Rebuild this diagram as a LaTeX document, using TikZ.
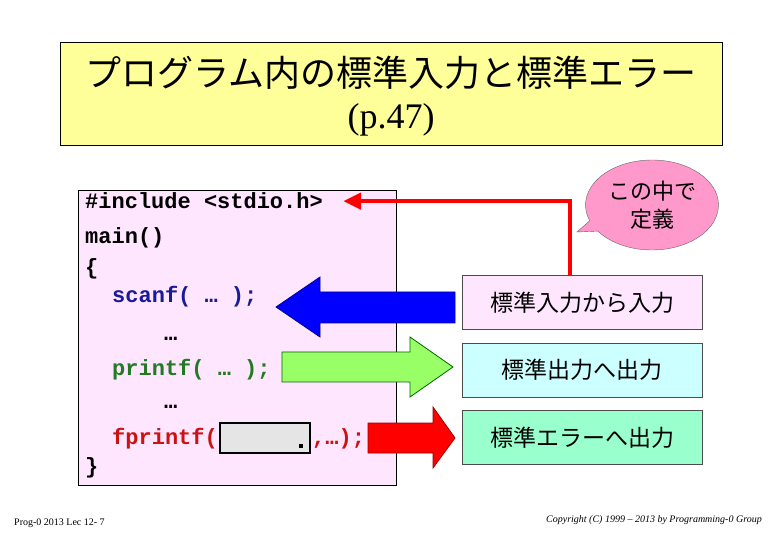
\documentclass[tikz,border=0pt]{standalone}
\usepackage{fontspec}
\setmainfont{Liberation Serif}
\setmonofont{Liberation Mono}
\newfontfamily\jafont{Noto Sans CJK JP}
\usetikzlibrary{positioning}
\usetikzlibrary{shapes.callouts}
\usetikzlibrary{arrows.meta}

\definecolor{titlefill}{HTML}{FFFF99}
\definecolor{codefill}{HTML}{FFE6FF}
\definecolor{infill}{HTML}{FFE6FF}
\definecolor{outfill}{HTML}{CCFFFF}
\definecolor{errfill}{HTML}{99FFCC}
\definecolor{bubblefill}{HTML}{FF99CC}
\definecolor{scanblue}{HTML}{1A1A99}
\definecolor{printgreen}{HTML}{227A22}
\definecolor{fprintred}{HTML}{CC1111}
\definecolor{greenarrow}{HTML}{99FF66}

\begin{document}
\begin{tikzpicture}[
		x=1pt, y=-1pt,
		codeline/.style={
			anchor=base west,
			inner sep=0pt,
			font={\fontsize{22}{26}\selectfont\ttfamily\bfseries}
		},
		iobox/.style={
			shape=rectangle,
			draw=black!70,
			minimum width=240,
			minimum height=54,
			font={\fontsize{23}{27}\selectfont\jafont}
		},
		blockarrow/.style={
			draw,
			line width=0.8,
			line join=miter
		}
		]
		
		\useasboundingbox (0,0) rectangle (780,540);
		
		% title
		\node[
		shape=rectangle,
		draw,
		fill=titlefill,
		minimum width=662,
		minimum height=103
		] (titlebox) at (391,93.5) {};
		
		\node[font={\fontsize{36}{40}\selectfont\jafont}] (title) at (391,73)
		{プログラム内の標準入力と標準エラー};
		
		\node[font={\fontsize{36}{40}\selectfont}] (page) at (391,120) {(p.47)};
		
		% program
		\node[
		shape=rectangle,
		draw,
		fill=codefill,
		minimum width=318,
		minimum height=295
		] (code) at (237,337.5) {};
		
		\node[codeline] (inc) at (85,209) {\#include <stdio.h>};
		\node[codeline] (main) at (85,244) {main()};
		\node[codeline] (open) at (85,275) {\{};
		\node[codeline, text=scanblue] (scan) at (112,303) {scanf( … );};
		\node[codeline] (dots1) at (164,341) {…};
		\node[codeline, text=printgreen] (print) at (112,375) {printf( … );};
		\node[codeline] (dots2) at (164,408) {…};
		\node[codeline, text=fprintred] (fprint) at (112,444) {fprintf(};
		\node[
		shape=rectangle,
		draw,
		line width=2,
		fill=black!10,
		minimum width=90,
		minimum height=30
		] (stream) at (265,437.5) {};
		\fill ([xshift=-12,yshift=-6]stream.east) rectangle ++(4,4);
		\node[codeline, text=fprintred] (rest) at (312,444) {,…);};
		\node[codeline] (close) at (85,473) {\}};
		
		% what each call does
		\node[iobox, fill=infill] (in) at (582,302.5) {標準入力から入力};
		\node[iobox, fill=outfill, below=13pt of in] (out) {標準出力へ出力};
		\node[iobox, fill=errfill, below=13pt of out] (err) {標準エラーへ出力};
		
		\node[
		ellipse callout,
		draw=black!60,
		fill=bubblefill,
		minimum width=133,
		minimum height=90,
		inner sep=0pt,
		align=center,
		font={\fontsize{22}{28}\selectfont\jafont},
		callout absolute pointer={(577,232)}
		] (bubble) at (652,205) {この中で\\定義};
		
		%%%%%%%%%%
		
		\draw[blockarrow, draw=blue!60!black, fill=blue]
		(455,292) -- (320,292) -- (320,277) -- (276,307) -- (320,337) -- (320,323) -- (455,323) -- cycle;
		
		\draw[blockarrow, draw=green!40!black, fill=greenarrow]
		(282,352) -- (410,352) -- (410,337) -- (453,367) -- (410,397) -- (410,382) -- (282,382) -- cycle;
		
		\draw[blockarrow, draw=red!60!black, fill=red]
		(368,423) -- (433,423) -- (433,407) -- (455,438) -- (433,468) -- (433,453) -- (368,453) -- cycle;
		
		\draw[red, line width=4.5, -{Triangle[length=18pt, width=16pt]}]
		([xshift=-12]in.north) |- ([xshift=20]inc.east);
		
		% footer
		\node[anchor=base west, inner sep=0pt, font={\fontsize{10}{12}\selectfont}] (lecture) at (14,525)
		{Prog-0 2013 Lec 12- 7};
		\node[anchor=base east, inner sep=0pt, font={\fontsize{10}{12}\selectfont\itshape}] (copyright) at (762,522)
		{Copyright (C) 1999 – 2013 by Programming-0 Group};
		
	\end{tikzpicture}
\end{document}
